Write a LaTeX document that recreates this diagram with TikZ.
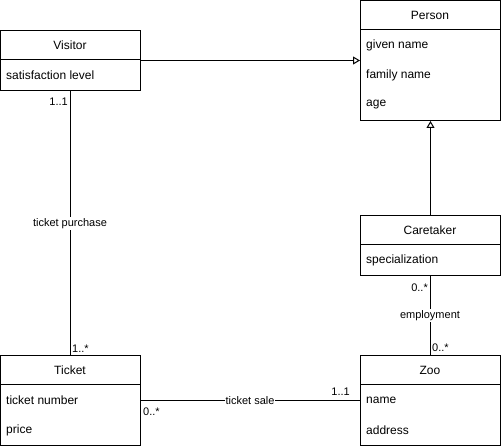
\documentclass[tikz,border=0pt]{standalone}
\usepackage{fontspec}
\setmainfont{Liberation Sans}
\usetikzlibrary{arrows.meta}
\begin{document}
\begin{tikzpicture}[x=1pt,y=-1pt,
  box/.style={draw=black, line width=1pt, minimum width=140pt, inner sep=0pt, anchor=north west, fill=white},
  title/.style={font=\fontsize{12}{14}\selectfont, inner sep=0pt},
  attr/.style={font=\fontsize{12}{14}\selectfont, inner sep=0pt, anchor=west},
  lbl/.style={font=\fontsize{11}{13}\selectfont, inner sep=1pt},
  assoc/.style={line width=1pt},
  gen/.style={line width=1pt, -{Triangle[open, width=8pt, length=7pt]}},
  sep/.style={line width=1pt}]
\useasboundingbox (0,0) rectangle (501,446);

% Person
\node[box, minimum height=120pt] (person) at (360,0) {};
\node[title] (personT) at (430,15.5) {Person};
\draw[sep] (360,30) -- (500,30);
\node[attr] (p1) at (366,45) {given name};
\node[attr] (p2) at (366,75) {family name};
\node[attr] (p3) at (366,105) {age};

% Visitor
\node[box, minimum height=60pt] (visitor) at (0,30) {};
\node[title] (visitorT) at (70,45.5) {Visitor};
\draw[sep] (0,60) -- (140,60);
\node[attr] (v1) at (6,75) {satisfaction level};

% Caretaker
\node[box, minimum height=60pt] (caretaker) at (360,215) {};
\node[title] (caretakerT) at (430,230.5) {Caretaker};
\draw[sep] (360,245) -- (500,245);
\node[attr] (c1) at (366,260) {specialization};

% Ticket
\node[box, minimum height=90pt] (ticket) at (0,355) {};
\node[title] (ticketT) at (70,370.5) {Ticket};
\draw[sep] (0,385) -- (140,385);
\node[attr] (t1) at (6,400) {ticket number};
\node[attr] (t2) at (6,430) {price};

% Zoo
\node[box, minimum height=90pt] (zoo) at (360,355) {};
\node[title] (zooT) at (430,370.5) {Zoo};
\draw[sep] (360,385) -- (500,385);
\node[attr] (z1) at (366,400) {name};
\node[attr] (z2) at (366,430) {address};

% Generalizations
\draw[gen] (visitor.east) -- (person.west);
\draw[gen] (caretaker.north) -- (person.south);

% Associations
\draw[assoc] (visitor.south) -- (ticket.north);
\node[lbl, fill=white] (tp) at (70,223.5) {ticket purchase};
\node[lbl, anchor=east] (m1) at (69,101.5) {1..1};
\node[lbl, anchor=west] (m2) at (71,348.5) {1..*};

\draw[assoc] (caretaker.south) -- (zoo.north);
\node[lbl, fill=white] (emp) at (430,315.5) {employment};
\node[lbl, anchor=east] (m3) at (429,287.5) {0..*};
\node[lbl, anchor=west] (m4) at (431,347.5) {0..*};

\draw[assoc] (ticket.east) -- (zoo.west);
\node[lbl, fill=white] (ts) at (250,400.5) {ticket sale};
\node[lbl, anchor=west] (m5) at (142,411.5) {0..*};
\node[lbl, anchor=east] (m6) at (351,391.5) {1..1};
\end{tikzpicture}
\end{document}
